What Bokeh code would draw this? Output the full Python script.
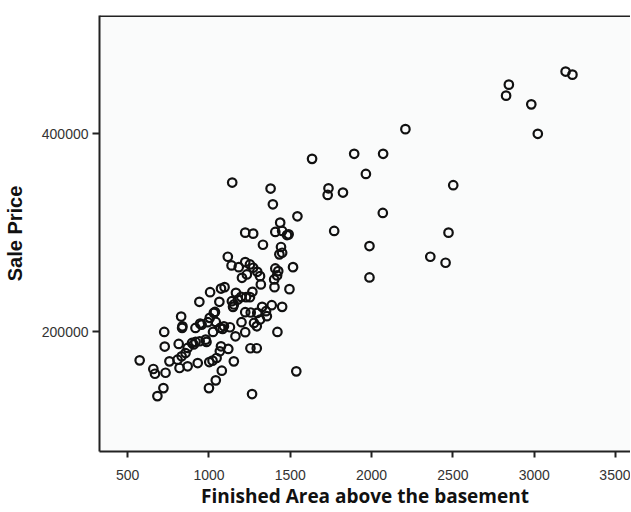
from bokeh.plotting import figure
from bokeh.models import LinearAxis, FixedTicker, Range1d, ColumnDataSource, BasicTickFormatter, Span
from bokeh.embed import file_html
from bokeh.resources import INLINE

# Finished area above the basement (sq ft)
area = [2844, 2827, 2982, 3022, 3193, 3235, 2208, 1634, 1893, 2071, 1965, 1143, 1379, 1735,
        1730, 1824, 2502, 1393, 1544, 2069, 1770, 2473, 1987, 2361, 2455, 1987, 1537, 1265,
        1438, 1223, 1272, 1408, 1450, 1480, 1490, 1332, 1443, 1433, 1450, 1116, 1139, 1183,
        1223, 1252, 1272, 1297, 1314, 1233, 1203, 1408, 1426, 1419, 1517, 1401, 1403, 1495,
        1319, 1096, 1074, 1007, 1166, 1267, 1198, 1228, 1252, 1141, 1178, 1148, 1153, 1064,
        941, 1386, 1450, 1327, 1351, 1037, 1223, 1257, 1297, 1314, 1356, 1005, 829, 837,
        946, 955, 993, 1042, 1069, 1084, 1129, 1200, 1277, 1294, 1223, 1163, 725, 1421,
        1025, 728, 814, 896, 918, 943, 980, 985, 906, 869, 1074, 1119, 1067, 1255,
        1294, 856, 832, 807, 757, 574, 931, 1047, 1022, 1002, 1153, 819, 869, 658,
        668, 733, 1079, 1042, 1000, 720, 683, 835, 917, 1030, 1092]

# Sale price ($)
price = [449600, 438500, 429700, 400000, 462800, 459700, 404700, 374700, 379800, 379800,
         359500, 350800, 344700, 345000, 338300, 340700, 348100, 328800, 316700, 320100,
         301900, 300200, 286700, 275900, 269800, 255000, 160200, 137300,
         310300, 300200, 299200, 300900, 301900, 297800, 298500, 288000, 285700, 278300,
         279900, 275900, 267100, 265400, 270500, 268100, 264800, 260700, 256300, 258000,
         254600, 264100, 261400, 257000, 265400, 253000, 245200, 243200, 247900, 245200,
         243800, 240100, 239500, 240500, 235400, 235100, 235100, 231000, 232700, 225300,
         227700, 230400, 230400, 227000, 225300, 225300, 220900, 220200, 219900, 219600,
         219200, 212500, 215900, 214200, 215500, 205700, 208400, 207400, 209800, 210100,
         204000, 203000, 204700, 209800, 209100, 205700, 199700, 195600, 200000, 200000,
         200000, 185200, 187900, 188900, 189900, 190600, 192200, 189900, 187300, 183800,
         185500, 182800, 180400, 183500, 183500, 178700, 175400, 172000, 170300, 171300,
         168600, 173700, 171000, 169600, 170300, 163600, 165300, 162600, 157800, 158800,
         160900, 151100, 143300, 143300, 135200, 204000, 204000, 219200, 205700]

x_ticks = [500, 1000, 1500, 2000, 2500, 3000, 3500]
y_ticks = [200000, 400000]
y_top = 519400

src = ColumnDataSource(dict(area=area, price=price))

p = figure(width=630, height=511, output_backend="svg", toolbar_location=None,
           x_range=Range1d(327, 3592), y_range=Range1d(79300, y_top),
           x_axis_location=None, y_axis_location=None,
           min_border_left=99, min_border_right=0, min_border_top=15, min_border_bottom=60)

p.background_fill_color = "#fafbfb"
p.border_fill_color = "white"
p.outline_line_color = None
p.xgrid.visible = False
p.ygrid.visible = False

p.scatter("area", "price", source=src, size=8.5, fill_color=None,
          line_color="#111111", line_width=2.2)

lab_font = "Liberation Sans"

xaxis = LinearAxis(ticker=FixedTicker(ticks=x_ticks),
                   axis_label="Finished Area above the basement")
xaxis.axis_line_color = "#222222"
xaxis.axis_line_width = 2
xaxis.major_tick_line_color = "#222222"
xaxis.major_tick_line_width = 2
xaxis.major_tick_in = 0
xaxis.major_tick_out = 6
xaxis.minor_tick_line_color = None
xaxis.major_label_text_font = lab_font
xaxis.major_label_text_font_size = "14px"
xaxis.major_label_text_color = "#333333"
xaxis.major_label_standoff = 12
xaxis.axis_label_text_font = "Open Sans"
xaxis.axis_label_text_font_style = "bold"
xaxis.axis_label_text_font_size = "19px"
xaxis.axis_label_text_color = "#111111"
xaxis.axis_label_standoff = 0
p.add_layout(xaxis, "below")

yaxis = LinearAxis(ticker=FixedTicker(ticks=y_ticks), axis_label="Sale Price",
                   formatter=BasicTickFormatter(use_scientific=False))
yaxis.axis_line_color = "#222222"
yaxis.axis_line_width = 2
yaxis.major_tick_line_color = "#222222"
yaxis.major_tick_line_width = 2
yaxis.major_tick_in = 0
yaxis.major_tick_out = 7
yaxis.minor_tick_line_color = None
yaxis.major_label_text_font = lab_font
yaxis.major_label_text_font_size = "14px"
yaxis.major_label_text_color = "#333333"
yaxis.major_label_standoff = 4
yaxis.axis_label_text_font = lab_font
yaxis.axis_label_text_font_style = "bold"
yaxis.axis_label_text_font_size = "20px"
yaxis.axis_label_text_color = "#111111"
yaxis.axis_label_standoff = 13
p.add_layout(yaxis, "left")

top_line = Span(location=y_top, dimension="width", line_color="#222222", line_width=3)
p.add_layout(top_line)

open("out.html", "w").write(file_html(p, INLINE))
